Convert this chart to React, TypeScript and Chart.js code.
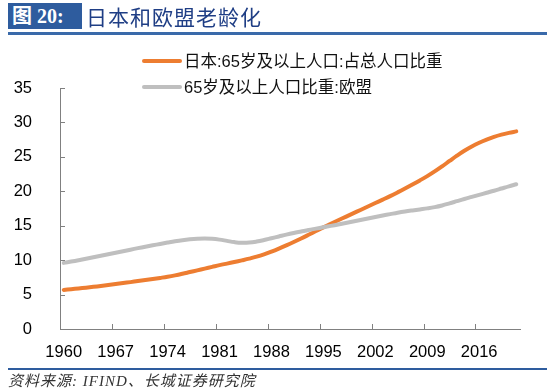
import React, { useEffect, useRef } from "react";
import { Chart, registerables } from "chart.js";

Chart.register(...registerables);

const years: string[] = [
  "1960","1961","1962","1963","1964","1965","1966","1967","1968","1969",
  "1970","1971","1972","1973","1974","1975","1976","1977","1978","1979",
  "1980","1981","1982","1983","1984","1985","1986","1987","1988","1989",
  "1990","1991","1992","1993","1994","1995","1996","1997","1998","1999",
  "2000","2001","2002","2003","2004","2005","2006","2007","2008","2009",
  "2010","2011","2012","2013","2014","2015","2016","2017","2018","2019",
  "2020","2021",
];

const japanLabel = "日本:65岁及以上人口:占总人口比重";
const japan: number[] = [
  5.68, 5.78, 5.89, 6.0, 6.12, 6.25, 6.39, 6.53, 6.67, 6.81,
  6.96, 7.11, 7.26, 7.42, 7.59, 7.79, 8.02, 8.27, 8.52, 8.77,
  9.02, 9.27, 9.5, 9.73, 9.97, 10.22, 10.5, 10.84, 11.24, 11.68,
  12.15, 12.64, 13.15, 13.68, 14.22, 14.76, 15.28, 15.79, 16.29, 16.79,
  17.29, 17.79, 18.29, 18.79, 19.3, 19.84, 20.4, 20.98, 21.58, 22.2,
  22.88, 23.62, 24.4, 25.17, 25.88, 26.5, 27.04, 27.5, 27.9, 28.22,
  28.48, 28.7,
];

const euLabel = "65岁及以上人口比重:欧盟";
const eu: number[] = [
  9.6, 9.79, 9.99, 10.2, 10.42, 10.64, 10.86, 11.08, 11.3, 11.52,
  11.74, 11.95, 12.15, 12.35, 12.55, 12.74, 12.9, 13.02, 13.1, 13.13,
  13.1, 12.98, 12.8, 12.62, 12.52, 12.55, 12.7, 12.92, 13.18, 13.44,
  13.7, 13.94, 14.16, 14.38, 14.58, 14.78, 14.98, 15.18, 15.39, 15.61,
  15.83, 16.05, 16.27, 16.48, 16.68, 16.88, 17.06, 17.22, 17.37, 17.52,
  17.7, 17.94, 18.24, 18.56, 18.88, 19.18, 19.48, 19.78, 20.08, 20.4,
  20.72, 21.02,
];

const yMin = 0;
const yMax = 35;
const yStep = 5;
const labelEvery = 7;

const titleTag = "图 20:";
const titleText = "日本和欧盟老龄化";
const sourceText = "资料来源: IFIND、长城证券研究院";

const ORANGE = "#ED7D31";
const GRAY = "#BFBFBF";
const AXIS = "#808080";
const FONT = "'Liberation Sans', Arial, 'Noto Sans CJK SC', sans-serif";

const insideTicks = {
  id: "insideTicks",
  afterDraw(chart: any) {
    const { ctx, chartArea, scales } = chart;
    const x = scales.x;
    const y = scales.y;
    ctx.save();
    ctx.strokeStyle = AXIS;
    ctx.lineWidth = 1;
    ctx.beginPath();
    for (const t of y.ticks) {
      const py = Math.round(y.getPixelForValue(t.value)) + 0.5;
      ctx.moveTo(chartArea.left, py);
      ctx.lineTo(chartArea.left + 5, py);
    }
    for (let i = 0; i < years.length; i += labelEvery) {
      const px = Math.round(x.getPixelForValue(i - 0.5)) + 0.5;
      ctx.moveTo(px, chartArea.bottom);
      ctx.lineTo(px, chartArea.bottom - 5);
    }
    ctx.stroke();
    ctx.restore();
  },
};

export default function App() {
  const ref = useRef<HTMLCanvasElement | null>(null);

  useEffect(() => {
    document.body.style.margin = "0";
    const canvas = ref.current;
    if (!canvas) return;
    const chart = new Chart(canvas, {
      type: "line",
      data: {
        labels: years,
        datasets: [
          {
            label: japanLabel,
            data: japan,
            borderColor: ORANGE,
            backgroundColor: ORANGE,
            borderWidth: 4,
            pointRadius: 0,
            tension: 0.4,
            borderCapStyle: "round",
            order: 1,
          },
          {
            label: euLabel,
            data: eu,
            borderColor: GRAY,
            backgroundColor: GRAY,
            borderWidth: 4,
            pointRadius: 0,
            tension: 0.4,
            borderCapStyle: "round",
            order: 0,
          },
        ],
      },
      options: {
        animation: false,
        responsive: false,
        devicePixelRatio: 1,
        layout: { padding: { left: 8, right: 30, top: 88, bottom: 0 } },
        plugins: {
          legend: { display: false },
          tooltip: { enabled: false },
          title: { display: false },
        },
        scales: {
          x: {
            type: "category",
            offset: true,
            grid: { display: false },
            border: { display: true, color: AXIS, width: 1 },
            ticks: {
              autoSkip: false,
              maxRotation: 0,
              minRotation: 0,
              padding: 6,
              color: "#000",
              font: { family: FONT, size: 16.5 },
              callback: (_v: any, i: number) => (i % labelEvery === 0 ? years[i] : null),
            },
            afterFit: (s: any) => {
              s.height = 63;
            },
          },
          y: {
            min: yMin,
            max: yMax,
            grid: { display: false },
            border: { display: true, color: AXIS, width: 1 },
            ticks: {
              stepSize: yStep,
              padding: 20,
              color: "#000",
              font: { family: FONT, size: 16.5 },
            },
            afterFit: (s: any) => {
              s.width = 52;
            },
          },
        },
      },
      plugins: [insideTicks],
    } as any);
    return () => chart.destroy();
  }, []);

  return (
    <div style={{ position: "relative", width: 550, height: 392, background: "#fff", overflow: "hidden" }}>
      <canvas ref={ref} width={550} height={392} style={{ position: "absolute", left: 0, top: 0, width: 550, height: 392 }} />
      <div
        style={{
          position: "absolute", left: 8, top: 3, width: 74, height: 26, background: "#2E5C9E",
          color: "#fff", fontFamily: "'Liberation Serif', 'Noto Sans CJK SC', serif", fontWeight: "bold",
          fontSize: 20, lineHeight: "26px", paddingLeft: 4, boxSizing: "border-box", whiteSpace: "nowrap",
        }}
      >
        {titleTag}
      </div>
      <div
        style={{
          position: "absolute", left: 86, top: 2, height: 28, color: "#1F3E85",
          fontFamily: "'Noto Sans CJK SC', sans-serif", fontSize: 21, lineHeight: "28px",
          letterSpacing: 1, whiteSpace: "nowrap",
        }}
      >
        {titleText}
      </div>
      <div style={{ position: "absolute", left: 8, top: 32, width: 539, height: 3, background: "#3A6AAA" }} />

      <div style={{ position: "absolute", left: 142, top: 59, width: 40, height: 4, background: ORANGE, borderRadius: 2 }} />
      <div
        style={{
          position: "absolute", left: 184, top: 50, height: 22, lineHeight: "22px", fontSize: 16.5,
          fontFamily: FONT, color: "#111", whiteSpace: "nowrap",
        }}
      >
        {japanLabel}
      </div>
      <div style={{ position: "absolute", left: 142, top: 85, width: 40, height: 4, background: GRAY, borderRadius: 2 }} />
      <div
        style={{
          position: "absolute", left: 184, top: 76, height: 22, lineHeight: "22px", fontSize: 16.5,
          fontFamily: FONT, color: "#111", whiteSpace: "nowrap",
        }}
      >
        {euLabel}
      </div>

      <div style={{ position: "absolute", left: 8, top: 368, width: 539, height: 1.5, background: "#2E5C9E" }} />
      <div
        style={{
          position: "absolute", left: 8, top: 371, height: 20, lineHeight: "20px", fontSize: 15,
          fontFamily: "'Liberation Serif', 'Noto Sans CJK SC', serif", fontStyle: "italic",
          letterSpacing: 1, color: "#333", whiteSpace: "nowrap",
        }}
      >
        {sourceText}
      </div>
    </div>
  );
}
